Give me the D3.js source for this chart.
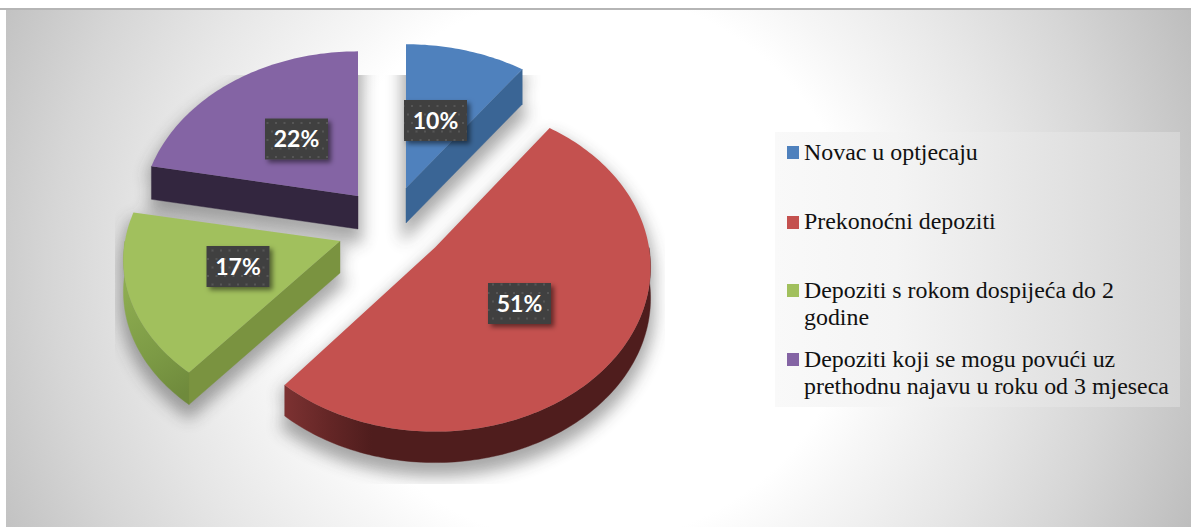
<!DOCTYPE html>
<html><head><meta charset="utf-8">
<script src="https://cdn.jsdelivr.net/npm/d3@7/dist/d3.min.js"></script>
<style>html,body{margin:0;padding:0;background:#fff}svg{display:block}</style>
</head><body><svg id="c" width="1191" height="527"></svg>
<script>
const categories=["Novac u optjecaju","Prekonoćni depoziti","Depoziti s rokom dospijeća do 2 godine","Depoziti koji se mogu povući uz prethodnu najavu u roku od 3 mjeseca"];
const values=[10,51,17,22];
const legendLines=[["Novac u optjecaju"],["Prekonoćni depoziti"],["Depoziti s rokom dospijeća do 2","godine"],["Depoziti koji se mogu povući uz","prethodnu najavu u roku od 3 mjeseca"]];
const topColors=["#4f81bd","#c4514f","#a1c05d","#8464a4"];
const wallColors=["#3a6595","#4f1d1d","#7a9340","#33263f"];
// layout (exploded slice apexes, radii, wall depths, label centres, legend rows)
const apex=[[406,188],[435,247.5],[340,241],[358,196]];
const radiusX=[217,214,215,215];
const radiusY=[161,162,155,162];
const depths=[35,31,32,33];
const labelCentres=[[435.5,120.5],[519.5,303.5],[238,266.5],[296.5,139]];
const legendSwatchY=[146,216,284,353];
const legendBaseY=[[160],[229],[298,325],[367,394]];
const P=0.12;

const svg=d3.select("#c");
const defs=svg.append("defs");
const bg=defs.append("radialGradient").attr("id","bg").attr("gradientUnits","userSpaceOnUse")
  .attr("cx",585).attr("cy",268).attr("r",660);
[[0,"#ffffff"],[0.417,"#ffffff"],[0.5,"#f6f6f6"],[0.662,"#e6e6e6"],[0.808,"#d6d6d6"],[0.94,"#c5c5c5"],[1,"#bdbdbd"]].forEach(s=>bg.append("stop").attr("offset",s[0]).attr("stop-color",s[1]));
const lg=defs.append("linearGradient").attr("id","lg");
[[0,"#f9f9f9"],[0.3,"#f4f4f4"],[1,"#d5d5d5"]].forEach(s=>lg.append("stop").attr("offset",s[0]).attr("stop-color",s[1]));
const rw=defs.append("linearGradient").attr("id","wall1").attr("gradientUnits","userSpaceOnUse").attr("x1",287).attr("x2",372).attr("y1",0).attr("y2",0);
[[0,"#7b3131"],[0.5,"#642626"],[1,"#4f1d1d"]].forEach(s=>rw.append("stop").attr("offset",s[0]).attr("stop-color",s[1]));
const gw=defs.append("linearGradient").attr("id","wall2").attr("gradientUnits","userSpaceOnUse").attr("x1",125).attr("x2",190).attr("y1",290).attr("y2",390);
[[0,"#8dac50"],[0.6,"#7c9a45"],[1,"#6f8a3c"]].forEach(s=>gw.append("stop").attr("offset",s[0]).attr("stop-color",s[1]));
const blur=defs.append("filter").attr("id","blur").attr("x","-30%").attr("y","-30%").attr("width","160%").attr("height","160%");
blur.append("feGaussianBlur").attr("stdDeviation",8);
const ls=defs.append("filter").attr("id","ls").attr("x","-30%").attr("y","-30%").attr("width","160%").attr("height","160%");
ls.append("feDropShadow").attr("dx",3).attr("dy",3).attr("stdDeviation",2.5).attr("flood-color","#000").attr("flood-opacity",0.5);
const pat=defs.append("pattern").attr("id","dots").attr("patternUnits","userSpaceOnUse").attr("width",17).attr("height",17);
pat.append("rect").attr("width",17).attr("height",17).attr("fill","#404040");
[[4,4],[12.5,4],[0,12.5],[8.5,12.5],[17,12.5]].forEach(d=>pat.append("rect").attr("x",d[0]-1).attr("y",d[1]-1).attr("width",2).attr("height",2).attr("fill","#565656"));
const sc=defs.append("clipPath").attr("id","sc");
sc.append("rect").attr("x",115).attr("y",75).attr("width",550).attr("height",409);

svg.append("rect").attr("width",1191).attr("height",527).attr("fill","#fff");
svg.append("rect").attr("x",6).attr("y",8).attr("width",1185).attr("height",519).attr("fill","url(#bg)");
svg.append("rect").attr("x",0).attr("y",8).attr("width",1191).attr("height",2).attr("fill","#b5b5b5");

const arcs=d3.pie().sort(null).value(d=>d)(values);
const line=d3.line();
function pt(i,r,t,dy=0){const u=r*Math.sin(t),v=r*Math.cos(t),w=1+P*v;
  return [apex[i][0]+radiusX[i]*u/w, apex[i][1]-radiusY[i]*v/w+dy];}
function samples(a,b){const n=Math.max(2,Math.ceil((b-a)/0.02));return d3.range(n+1).map(k=>a+(b-a)*k/n);}
function facePts(i){const a=arcs[i];return [apex[i],...samples(a.startAngle,a.endAngle).map(t=>pt(i,1,t))];}
function wallPieces(i){
  const a=arcs[i],out=[],D=depths[i];
  const lo=Math.max(a.startAngle,Math.PI/2),hi=Math.min(a.endAngle,3*Math.PI/2);
  if(hi>lo){const s=samples(lo,hi);out.push({pts:[...s.map(t=>pt(i,1,t)),...s.slice().reverse().map(t=>pt(i,1,t,D))],arc:true});}
  [[a.startAngle,Math.sin(a.startAngle)<-1e-6],[a.endAngle,Math.sin(a.endAngle)>1e-6]].forEach(e=>{
    if(e[1]){const q=pt(i,1,e[0]);out.push({pts:[apex[i],q,[q[0],q[1]+D],[apex[i][0],apex[i][1]+D]],arc:false});}
  });
  return out;
}
// soft shadow under the pie
const sh=svg.append("g").attr("clip-path","url(#sc)").append("g").attr("filter","url(#blur)").attr("opacity",.42);
values.forEach((v,i)=>{
  const f=facePts(i);
  [10,depths[i]+10].forEach(dy=>sh.append("path").attr("d",line(f.map(p=>[p[0],p[1]+dy]))+"Z").attr("fill","#333").attr("stroke","#333").attr("stroke-width",8));
  wallPieces(i).forEach(w=>sh.append("path").attr("d",line(w.pts.map(p=>[p[0],p[1]+10]))+"Z").attr("fill","#333"));
});
// slices
const order=[3,0,2,1];
order.forEach(i=>{
  const g=svg.append("g");
  wallPieces(i).forEach(w=>{
    const fill=w.arc&&i===1?"url(#wall1)":w.arc&&i===2?"url(#wall2)":wallColors[i];
    g.append("path").attr("d",line(w.pts)+"Z").attr("fill",fill).attr("stroke",fill).attr("stroke-width",.4);
  });
  g.append("path").attr("d",line(facePts(i))+"Z").attr("fill",topColors[i]);
});
// data labels
values.forEach((v,i)=>{
  const [x,y]=labelCentres[i];
  const g=svg.append("g");
  g.append("rect").attr("x",x-31.5).attr("y",y-20.5).attr("width",63).attr("height",41).attr("fill","url(#dots)").attr("filter","url(#ls)");
  g.append("text").attr("x",x).attr("y",y+8).attr("text-anchor","middle").attr("fill","#fff")
   .attr("font-family","Lato").attr("font-weight",700).attr("font-size",23).text(v+"%");
});
// legend
svg.append("rect").attr("x",775).attr("y",132).attr("width",405).attr("height",275).attr("fill","url(#lg)");
categories.forEach((c,i)=>{
  svg.append("rect").attr("x",787).attr("y",legendSwatchY[i]).attr("width",12).attr("height",13).attr("fill",topColors[i]);
  legendLines[i].forEach((t,k)=>svg.append("text").attr("x",804).attr("y",legendBaseY[i][k])
    .attr("font-family","Liberation Serif").attr("font-size",23.9).attr("fill","#111").text(t));
});
</script></body></html>
